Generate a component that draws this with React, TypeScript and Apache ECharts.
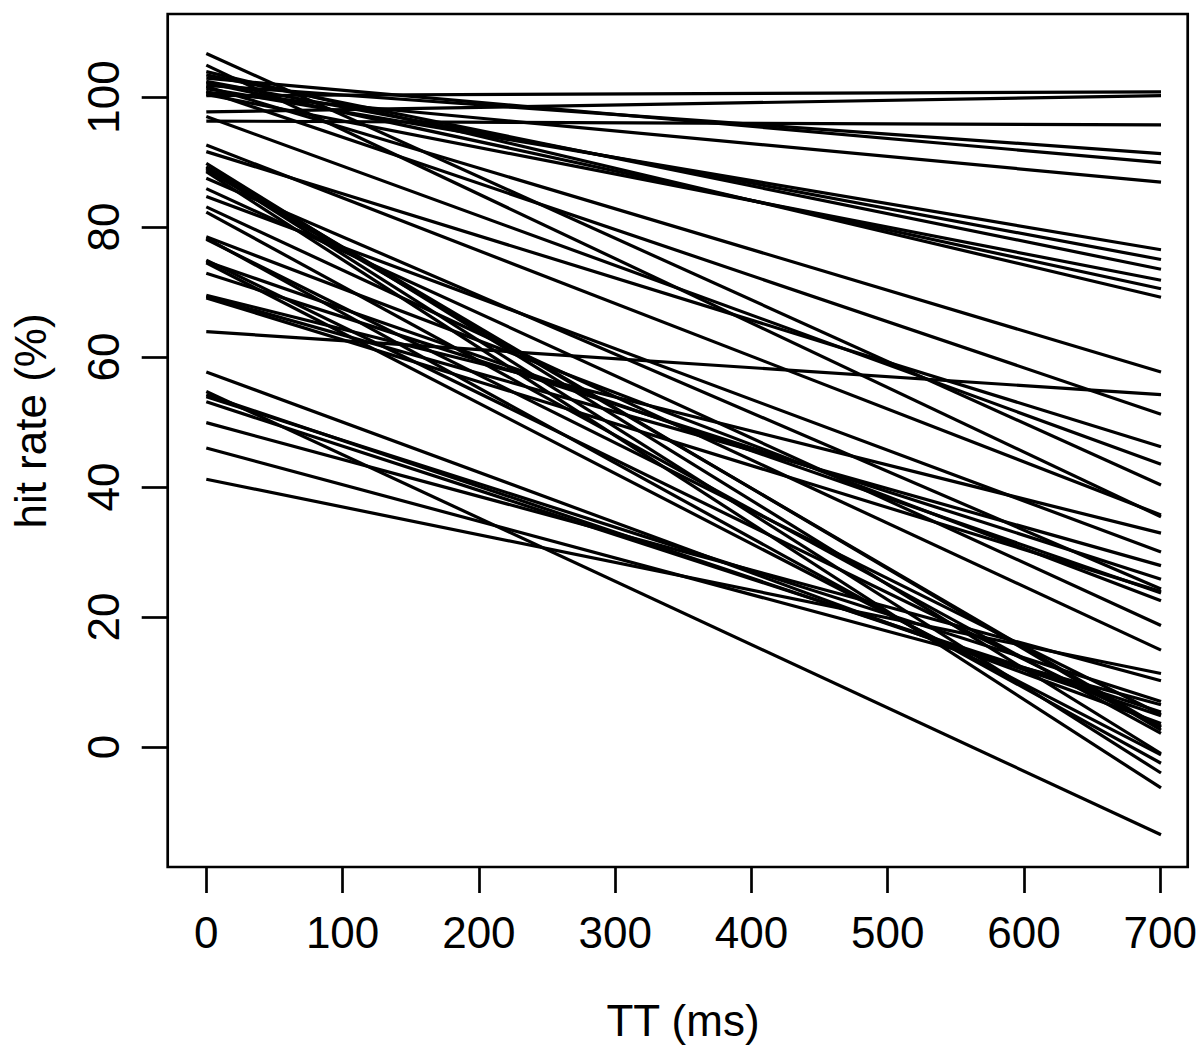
import React, { useEffect, useRef } from "react";
import * as echarts from "echarts";

// x positions of every line (TT in ms)
const ttPoints = [0, 700];

// hit rate (%) at TT = 0 for each subject
const startRates = [
  100.2, 97.7, 96.3, 101.8, 102.9, 100.7, 101.3, 102.4, 103.4, 100.4, 102.2, 103.9,
  106.7, 104.9, 101.6, 100.9, 97.0,
  92.6, 91.6, 89.8, 89.3, 89.1, 88.8, 88.5, 87.5, 85.9, 84.7, 83.1, 82.3,
  78.5, 78.3, 78.1, 74.9, 74.7, 74.5, 72.9, 69.5, 69.3, 69.1, 63.9,
  57.7, 54.7, 54.2, 53.9, 53.1, 49.9, 46.0, 41.2,
];

// hit rate (%) at TT = 700 for each subject
const endRates = [
  100.8, 100.2, 95.7, 91.3, 89.9, 86.9, 76.5, 75.0, 73.5, 71.8, 70.5, 69.2,
  40.3, 35.4, 57.7, 51.2, 43.5,
  35.7, 46.2, -1.0, 2.6, -4.0, 3.0, -6.3, 24.3, 18.7, 30.0, 14.9, 2.1,
  22.5, -2.5, 5.0, 3.2, 23.7, -1.2, 25.8, 32.9, 27.9, 23.9, 54.2,
  3.6, -13.5, 4.8, 7.0, 5.4, 10.2, 6.5, 11.3,
];

const xTicks = { min: 0, max: 700, interval: 100 };
const yTicks = { min: 0, max: 100, interval: 20 };

const FONT = "Liberation Sans, Arial, Helvetica, sans-serif";

export default function App() {
  const ref = useRef<HTMLDivElement>(null);

  useEffect(() => {
    if (!ref.current) return;
    const chart = echarts.init(ref.current, undefined, { renderer: "svg" });

    const series = startRates.map((s, i) => ({
      type: "line",
      xAxisIndex: 0,
      yAxisIndex: 0,
      data: [
        [ttPoints[0], s],
        [ttPoints[1], endRates[i]],
      ],
      symbol: "none",
      clip: false,
      silent: true,
      lineStyle: { color: "#000", width: 3.2 },
    }));

    const tick = {
      show: true,
      inside: false,
      length: 26,
      lineStyle: { color: "#000", width: 2.7 },
    };
    const hidden = { show: false };

    chart.setOption({
      animation: false,
      backgroundColor: "#fff",
      grid: [
        // data grid: x 0..700, y 0..100
        { left: 206.3, top: 97, width: 954.7, height: 650 },
        // x-axis grid: bottom edge on the box
        { left: 206.3, top: 14, width: 954.7, height: 853 },
        // y-axis grid: left edge on the box
        { left: 167.7, top: 97, width: 1020, height: 650 },
      ],
      xAxis: [
        { gridIndex: 0, type: "value", min: xTicks.min, max: xTicks.max, ...hidden },
        {
          gridIndex: 1,
          type: "value",
          min: xTicks.min,
          max: xTicks.max,
          interval: xTicks.interval,
          axisLine: { show: false },
          axisTick: tick,
          splitLine: { show: false },
          axisLabel: {
            color: "#000",
            fontSize: 44,
            fontFamily: FONT,
            margin: 43,
            showMinLabel: true,
            showMaxLabel: true,
          },
        },
        { gridIndex: 2, type: "value", min: 0, max: 1, ...hidden },
      ],
      yAxis: [
        { gridIndex: 0, type: "value", min: yTicks.min, max: yTicks.max, ...hidden },
        { gridIndex: 1, type: "value", min: 0, max: 1, ...hidden },
        {
          gridIndex: 2,
          type: "value",
          min: yTicks.min,
          max: yTicks.max,
          interval: yTicks.interval,
          axisLine: { show: false },
          axisTick: tick,
          splitLine: { show: false },
          axisLabel: {
            color: "#000",
            fontSize: 44,
            fontFamily: FONT,
            rotate: 90,
            margin: 42,
            showMinLabel: true,
            showMaxLabel: true,
          },
        },
      ],
      graphic: [
        {
          type: "rect",
          shape: { x: 167.7, y: 14, width: 1020, height: 853 },
          style: { fill: "none", stroke: "#000", lineWidth: 2.7 },
          silent: true,
        },
        {
          type: "text",
          x: 683,
          y: 1020,
          style: {
            text: "TT (ms)",
            fill: "#000",
            font: `44px ${FONT}`,
            textAlign: "center",
            textVerticalAlign: "middle",
          },
        },
        {
          type: "text",
          x: 30,
          y: 421,
          rotation: Math.PI / 2,
          style: {
            text: "hit rate (%)",
            fill: "#000",
            font: `44px ${FONT}`,
            textAlign: "center",
            textVerticalAlign: "middle",
          },
        },
      ],
      series,
    });

    return () => {
      chart.dispose();
    };
  }, []);

  return (
    <div
      ref={ref}
      style={{ position: "absolute", left: 0, top: 0, width: 1200, height: 1045 }}
    />
  );
}
